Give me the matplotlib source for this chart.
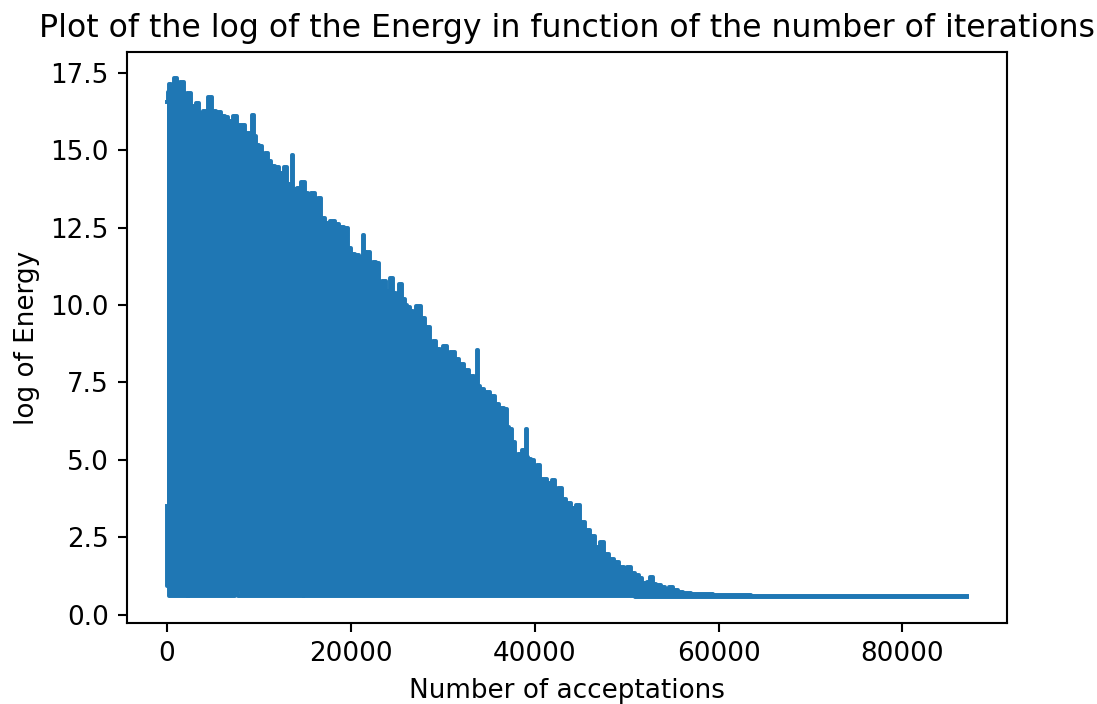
import matplotlib
matplotlib.use('Agg')
import matplotlib.pyplot as plt

# Upper edge of the energy trace
iters = [0, 120, 286, 508, 904, 1230, 1633, 2025, 2428, 2754, 3048, 3331, 3658,
         4202, 4638, 5073, 5552, 6097, 6489, 6815, 7436, 7730, 8198, 8775, 9200,
         9363, 9537, 9907, 10158, 10517, 10811, 11170, 11540, 11976, 12444,
         12912, 13206, 13500, 13609, 13750, 13892, 14436, 14806, 15166, 15525,
         15895, 16254, 16548, 16984, 17419, 18072, 18508, 18976, 19520, 19880,
         20250, 20718, 21078, 21250, 21371, 21480, 21589, 21900, 22166, 22600,
         22971, 23189, 23690, 24060, 24496, 24779, 25100, 25432, 25700, 26000,
         26237, 26600, 26890, 27326, 27903, 28200, 28480, 28774, 29068, 29504,
         29900, 30222, 30592, 31060, 31496, 32000, 32600, 33200, 33650, 33800,
         33950, 34200, 34800, 35400, 35900, 36395, 36831, 37049, 37400, 37670,
         38029, 38400, 38758, 39050, 39150, 39250, 39368, 39738, 40100, 40391,
         40674, 41100, 41653, 42024, 42383, 42742, 43112, 43600, 44200, 44700,
         45200, 45700, 46300, 46800, 47300, 47800, 48400, 48900, 49460, 49900,
         50255, 50700, 51093, 51500, 51931, 52400, 52726, 52976, 53500, 54000,
         54400, 54827, 55300, 55807, 56536, 57440, 58900, 60000, 62000, 65000,
         70000, 87000]
upper = [16.55, 16.87, 17.13, 16.95, 17.32, 16.95, 17.19, 16.73, 16.84, 16.41,
         16.19, 16.52, 16.19, 16.27, 16.73, 16.25, 16.23, 16.09, 16.06, 15.95,
         16.11, 15.82, 15.82, 15.55, 15.50, 16.14, 15.44, 15.18, 15.12, 14.64,
         14.91, 14.64, 14.48, 14.45, 14.26, 14.45, 13.89, 13.85, 14.83, 13.75,
         13.67, 13.78, 13.97, 13.62, 13.35, 13.62, 13.03, 13.46, 12.82, 12.65,
         12.71, 12.60, 12.53, 12.49, 11.85, 11.64, 11.62, 11.53, 11.55, 12.26,
         11.70, 11.69, 11.72, 11.32, 11.38, 11.34, 10.62, 10.76, 10.46, 10.88,
         10.40, 10.20, 10.69, 10.20, 10.00, 9.92, 9.80, 9.60, 9.97, 9.58, 9.30,
         9.30, 8.63, 8.85, 8.58, 8.55, 8.66, 8.37, 8.47, 8.26, 8.10, 7.90, 7.70,
         7.55, 8.55, 7.40, 7.30, 7.20, 7.05, 6.80, 6.68, 6.65, 6.06, 6.00, 5.58,
         5.15, 5.20, 5.31, 5.30, 6.01, 5.10, 5.04, 4.99, 4.60, 4.83, 4.37, 4.37,
         4.24, 4.34, 3.86, 4.08, 3.73, 3.60, 3.45, 3.55, 3.00, 2.75, 2.55, 2.20,
         2.35, 1.95, 1.80, 1.70, 1.55, 1.45, 1.55, 1.35, 1.29, 1.20, 1.02, 1.05,
         1.23, 1.00, 0.95, 0.89, 0.82, 0.89, 0.80, 0.73, 0.70, 0.68, 0.66, 0.64,
         0.63, 0.62, 0.61, 0.60]

# Lower edge of the trace (floor of the accepted energies)
low_iters = [0, 100, 200, 250, 2200, 2290, 2380, 7300, 7600, 7900, 14700,
             14800, 14900, 87000]
lower = [3.5, 0.92, 0.92, 0.59, 0.59, 0.66, 0.59, 0.59, 0.76, 0.59, 0.59,
         0.66, 0.59, 0.58]


def mergeLower(xs, lx, ly):
    '''Returns the lower edge value at each x of the upper edge (last known value)'''
    out = []
    j = 0
    for x in xs:
        while j + 1 < len(lx) and lx[j + 1] <= x:
            j += 1
        out.append(ly[j])
    return out


def plotData():
    '''Draws the band of the energy trace with its upper and lower edges'''
    blue = '#1f77b4'
    dpi = 189
    fig = plt.figure(figsize=(1097 / dpi, 704 / dpi), dpi=dpi)
    ax = fig.add_axes([0.1158, 0.1155, 0.8019, 0.8102])
    low = mergeLower(iters, low_iters, lower)
    ax.fill_between(iters, low, upper, step='mid', color=blue, lw=0)
    ax.plot(iters, upper, color=blue, lw=1.5, drawstyle='steps-mid')
    ax.plot(low_iters, lower, color=blue, lw=1.5, drawstyle='steps-mid')
    ax.set_title('Plot of the log of the Energy in function of the number of iterations')
    ax.set_xlabel('Number of acceptations')
    ax.set_ylabel('log of Energy')
    fig.savefig('out.png', dpi=dpi)


if __name__ == '__main__':
    plotData()
